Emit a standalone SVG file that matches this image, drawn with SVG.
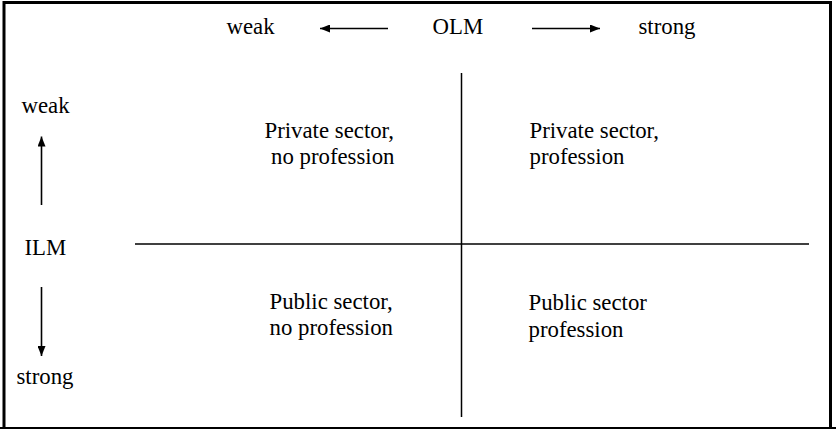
<svg xmlns="http://www.w3.org/2000/svg" width="836" height="429" viewBox="0 0 836 429">
<style>
text{font-family:"Liberation Serif","Times New Roman",serif;font-size:22.8px;fill:#000}
.ln{stroke:#000;stroke-width:1.5;fill:none}
.ar{stroke:#000;stroke-width:1.6;fill:none;marker-end:url(#ah)}
</style>
<defs>
<marker id="ah" viewBox="0 0 10 8" refX="10" refY="4" markerWidth="10" markerHeight="8" markerUnits="userSpaceOnUse" orient="auto">
<path d="M0,0 L10,4 L0,8 Z" fill="#000"/>
</marker>
</defs>
<rect width="836" height="429" fill="#fff"/>
<g id="frame">
<path d="M4,429 V2.5 H830.5 V429" fill="none" stroke="#000" stroke-width="3"/>
<line x1="0" y1="428" x2="836" y2="428" stroke="#000" stroke-width="2"/>
</g>
<g id="connectors">
<line class="ln" x1="461.5" y1="73" x2="461.5" y2="417"/>
<line class="ln" x1="135" y1="244" x2="809" y2="244"/>
<line class="ar" x1="388" y1="28.5" x2="320" y2="28.5"/>
<line class="ar" x1="532" y1="28.5" x2="600" y2="28.5"/>
<line class="ar" x1="41.5" y1="205" x2="41.5" y2="136.5"/>
<line class="ar" x1="41.5" y1="287" x2="41.5" y2="356"/>
</g>
<g id="olm-weak"><text x="226.5" y="34">weak</text></g>
<g id="olm"><text x="432.5" y="34">OLM</text></g>
<g id="olm-strong"><text x="638.5" y="34">strong</text></g>
<g id="ilm-weak"><text x="21.5" y="112.5">weak</text></g>
<g id="ilm"><text x="24.5" y="255">ILM</text></g>
<g id="ilm-strong"><text x="16.5" y="384">strong</text></g>
<g id="q-private-noprof"><text x="264.5" y="138">Private sector,</text><text x="271" y="164">no profession</text></g>
<g id="q-private-prof"><text x="529.5" y="138">Private sector,</text><text x="529.5" y="164">profession</text></g>
<g id="q-public-noprof"><text x="269.5" y="309">Public sector,</text><text x="269.5" y="335">no profession</text></g>
<g id="q-public-prof"><text x="528.5" y="310">Public sector</text><text x="528.5" y="337">profession</text></g>
</svg>
